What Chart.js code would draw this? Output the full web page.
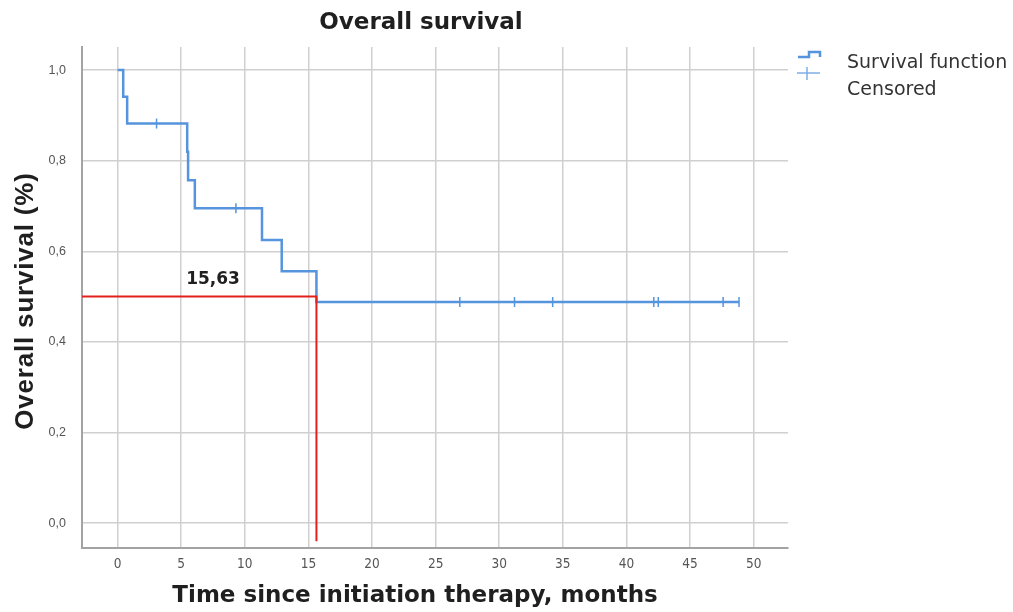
<!DOCTYPE html>
<html>
<head>
<meta charset="utf-8">
<script src="https://cdn.jsdelivr.net/npm/chart.js@4"></script>
<style>
  html, body { margin: 0; padding: 0; background: #fff; }
  canvas { display: block; }
</style>
</head>
<body>
<canvas id="km" width="1013" height="612"></canvas>
<script>
// Kaplan-Meier steps (time in months, survival after the event)
const eventTimes = [0, 0.44, 0.75, 5.47, 5.54, 6.07, 11.35, 12.9, 15.63, 48.85];
const survival = [1, 0.941, 0.882, 0.820, 0.757, 0.695, 0.625, 0.556, 0.488, 0.488];

// censored observations
const censoredTimes = [3.06, 9.3, 26.9, 31.2, 34.2, 42.15, 42.5, 47.6, 48.85];
const censoredSurvival = [0.882, 0.695, 0.488, 0.488, 0.488, 0.488, 0.488, 0.488, 0.488];

// median survival marker
const medianTime = 15.63;
const medianLevel = 0.5;
const medianLabel = '15,63';

const xTicks = [0, 5, 10, 15, 20, 25, 30, 35, 40, 45, 50];
const yTicks = [0, 0.2, 0.4, 0.6, 0.8, 1.0];
const xMin = -2.8, xMax = 52.7;
const yMin = -0.055, yMax = 1.051;
const medianLineBottom = -0.04;

const blue = '#5694dd';
const red = '#e3201b';

const overlay = {
  id: 'overlay',
  afterDraw(chart) {
    const ctx = chart.ctx;
    const { x, y } = chart.scales;
    ctx.save();
    ctx.fillStyle = '#1f1f1f';
    ctx.textAlign = 'center';
    ctx.textBaseline = 'middle';

    // title
    ctx.font = 'bold 23px "DejaVu Sans"';
    ctx.fillText('Overall survival', 421, 23);

    // x axis title
    ctx.font = 'bold 23px "DejaVu Sans"';
    ctx.fillText('Time since initiation therapy, months', 415, 596);

    // y axis title
    ctx.save();
    ctx.translate(26, 301);
    ctx.rotate(-Math.PI / 2);
    ctx.font = 'bold 26px "Liberation Sans"';
    ctx.letterSpacing = '0.8px';
    ctx.fillText('Overall survival (%)', 0, 0);
    ctx.restore();

    // median label
    ctx.font = 'bold 17px "DejaVu Sans"';
    ctx.fillText(medianLabel, x.getPixelForValue(7.5), y.getPixelForValue(medianLevel) - 17);

    // legend
    ctx.strokeStyle = blue;
    ctx.lineWidth = 2.5;
    ctx.beginPath();
    ctx.moveTo(798, 57);
    ctx.lineTo(809, 57);
    ctx.lineTo(809, 52);
    ctx.lineTo(820, 52);
    ctx.lineTo(820, 57);
    ctx.stroke();
    ctx.strokeStyle = '#7eaee6';
    ctx.lineWidth = 1.5;
    ctx.beginPath();
    ctx.moveTo(797, 73);
    ctx.lineTo(820, 73);
    ctx.moveTo(807, 67);
    ctx.lineTo(807, 80);
    ctx.stroke();

    ctx.fillStyle = '#333';
    ctx.textAlign = 'left';
    ctx.font = '19px "DejaVu Sans"';
    ctx.fillText('Survival function', 847, 63);
    ctx.fillText('Censored', 847, 90);
    ctx.restore();
  }
};

new Chart(document.getElementById('km'), {
  type: 'line',
  data: {
    datasets: [
      {
        label: 'Survival function',
        data: eventTimes.map((t, i) => ({ x: t, y: survival[i] })),
        stepped: true,
        borderColor: blue,
        borderWidth: 2.5,
        pointRadius: 0,
        fill: false,
        order: 2
      },
      {
        label: 'Censored',
        data: censoredTimes.map((t, i) => ({ x: t, y: censoredSurvival[i] })),
        showLine: false,
        pointStyle: 'line',
        rotation: 90,
        pointRadius: 5,
        borderColor: blue,
        borderWidth: 1.5,
        order: 1
      },
      {
        label: 'Median',
        data: [
          { x: xMin, y: medianLevel },
          { x: medianTime, y: medianLevel },
          { x: medianTime, y: medianLineBottom }
        ],
        borderColor: red,
        borderWidth: 2,
        pointRadius: 0,
        fill: false,
        order: 0
      }
    ]
  },
  options: {
    responsive: false,
    animation: false,
    devicePixelRatio: 1,
    layout: { padding: { left: 0, right: 225, top: 47, bottom: 0 } },
    plugins: {
      legend: { display: false },
      title: { display: false },
      tooltip: { enabled: false }
    },
    scales: {
      x: {
        type: 'linear',
        min: xMin,
        max: xMax,
        afterBuildTicks: (scale) => { scale.ticks = xTicks.map((v) => ({ value: v })); },
        afterFit: (scale) => { scale.height = 64; },
        grid: { color: '#d0d0d0', lineWidth: 1.5, drawTicks: false },
        border: { color: '#a3a3a3', width: 2 },
        ticks: {
          color: '#555',
          padding: 8,
          maxRotation: 0,
          font: { family: '"DejaVu Sans Condensed", "DejaVu Sans"', size: 13.5 },
          callback: (v) => String(v)
        }
      },
      y: {
        min: yMin,
        max: yMax,
        afterBuildTicks: (scale) => { scale.ticks = yTicks.map((v) => ({ value: v })); },
        afterFit: (scale) => { scale.width = 82; },
        grid: { color: '#d0d0d0', lineWidth: 1.5, drawTicks: false },
        border: { color: '#a3a3a3', width: 2 },
        ticks: {
          color: '#555',
          padding: 16,
          font: { family: '"Liberation Sans"', size: 12.5 },
          callback: (v) => v.toFixed(1).replace('.', ',')
        }
      }
    }
  },
  plugins: [overlay]
});
</script>
</body>
</html>
